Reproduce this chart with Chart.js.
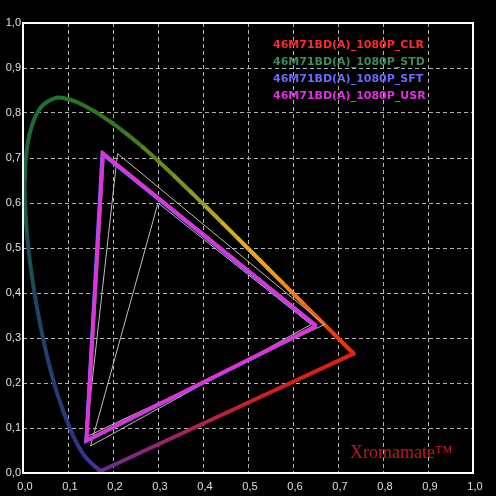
<!DOCTYPE html>
<html>
<head>
<meta charset="utf-8">
<script src="https://cdn.jsdelivr.net/npm/chart.js@4.4.0/dist/chart.umd.min.js"></script>
<style>
  html, body { margin: 0; padding: 0; background: #000; }
  #c { display: block; }
</style>
</head>
<body>
<canvas id="c" width="496" height="496"></canvas>
<script>
// ---- Data ----
const tickLabels = ['0,0','0,1','0,2','0,3','0,4','0,5','0,6','0,7','0,8','0,9','1,0'];

// CIE 1931 spectral locus (2°), 380–700 nm step 5
const wavelengths = [380,385,390,395,400,405,410,415,420,425,430,435,440,445,450,455,460,465,470,475,480,485,490,495,500,505,510,515,520,525,530,535,540,545,550,555,560,565,570,575,580,585,590,595,600,605,610,615,620,625,630,635,640,645,650,655,660,665,670,675,680,685,690,695,700];
const locusX = [0.1741,0.1740,0.1738,0.1736,0.1733,0.1730,0.1726,0.1721,0.1714,0.1703,0.1689,0.1669,0.1644,0.1611,0.1566,0.1510,0.1440,0.1355,0.1241,0.1096,0.0913,0.0687,0.0454,0.0235,0.0082,0.0039,0.0139,0.0389,0.0743,0.1142,0.1547,0.1929,0.2296,0.2658,0.3016,0.3373,0.3731,0.4087,0.4441,0.4788,0.5125,0.5448,0.5752,0.6029,0.6270,0.6482,0.6658,0.6801,0.6915,0.7006,0.7079,0.7140,0.7190,0.7230,0.7260,0.7283,0.7300,0.7311,0.7320,0.7327,0.7334,0.7340,0.7344,0.7346,0.7347];
const locusY = [0.0050,0.0050,0.0049,0.0049,0.0048,0.0048,0.0048,0.0048,0.0051,0.0058,0.0069,0.0086,0.0109,0.0138,0.0177,0.0227,0.0297,0.0399,0.0578,0.0868,0.1327,0.2007,0.2950,0.4127,0.5384,0.6548,0.7502,0.8120,0.8338,0.8262,0.8059,0.7816,0.7543,0.7243,0.6923,0.6589,0.6245,0.5896,0.5547,0.5202,0.4866,0.4544,0.4242,0.3965,0.3725,0.3514,0.3340,0.3197,0.3083,0.2993,0.2920,0.2859,0.2809,0.2770,0.2740,0.2717,0.2700,0.2689,0.2680,0.2673,0.2666,0.2660,0.2656,0.2654,0.2653];

// Reference gamuts (R, G, B)
const ntscX = [0.67, 0.21, 0.14];
const ntscY = [0.33, 0.71, 0.08];
const srgbX = [0.64, 0.30, 0.15];
const srgbY = [0.33, 0.60, 0.06];

// Measured display gamuts (R, G, B)
const seriesNames = ['46M71BD(A)_1080P_CLR','46M71BD(A)_1080P_STD','46M71BD(A)_1080P_SFT','46M71BD(A)_1080P_USR'];
const clrX = [0.652, 0.178, 0.141];
const clrY = [0.327, 0.710, 0.072];
const stdX = [0.652, 0.178, 0.141];
const stdY = [0.327, 0.710, 0.072];
const sftX = [0.651, 0.176, 0.140];
const sftY = [0.326, 0.709, 0.071];
const usrX = [0.652, 0.178, 0.141];
const usrY = [0.327, 0.710, 0.072];

// ---- Styles ----
const seriesColors = ['#ff2a2a', '#3f8a58', '#6a6aff', '#e030e0'];
const locusStops = [
  [380, [112,40,150]], [440, [84,44,150]], [460, [58,52,148]], [480, [40,56,124]],
  [495, [30,70,96]], [505, [26,100,64]], [520, [30,118,36]], [540, [56,120,26]],
  [555, [118,140,30]], [565, [160,160,32]], [575, [222,176,32]], [585, [240,160,32]],
  [595, [240,128,32]], [605, [232,90,32]], [620, [232,58,24]], [700, [224,32,16]]
];
function wlColor(w) {
  for (let i = 0; i < locusStops.length - 1; i++) {
    const [w0, c0] = locusStops[i], [w1, c1] = locusStops[i + 1];
    if (w >= w0 && w <= w1) {
      const t = (w - w0) / (w1 - w0);
      const c = c0.map((v, k) => Math.round(v + (c1[k] - v) * t));
      return `rgb(${c[0]},${c[1]},${c[2]})`;
    }
  }
  return 'rgb(224,32,16)';
}

function pts(xs, ys) { return xs.map((x, i) => ({ x, y: ys[i] })); }
function closed(xs, ys) { const p = pts(xs, ys); p.push(p[0]); return p; }

const locusData = closed(locusX, locusY);
const nLocus = locusX.length;

const datasets = [
  {
    label: 'locus', data: locusData, order: 10, borderWidth: 4, tension: 0.3,
    borderCapStyle: 'round', borderJoinStyle: 'round',
    segment: {
      borderColor: (ctx) => {
        const i0 = ctx.p0DataIndex, i1 = ctx.p1DataIndex;
        if (i1 >= nLocus) {
          const g = ctx.chart.ctx.createLinearGradient(ctx.p0.x, ctx.p0.y, ctx.p1.x, ctx.p1.y);
          g.addColorStop(0, wlColor(700));
          g.addColorStop(0.4, 'rgb(205,30,36)');
          g.addColorStop(0.75, 'rgb(150,36,110)');
          g.addColorStop(1, wlColor(380));
          return g;
        }
        return wlColor((wavelengths[i0] + wavelengths[i1]) / 2);
      }
    }
  },
  { label: 'NTSC', data: closed(ntscX, ntscY), order: 9, borderWidth: 1, borderColor: '#bcbcbc' },
  { label: 'sRGB', data: closed(srgbX, srgbY), order: 8, borderWidth: 1, borderColor: '#bcbcbc' },
  { label: seriesNames[0], data: closed(clrX, clrY), order: 7, borderWidth: 3.5, borderColor: seriesColors[0] },
  { label: seriesNames[1], data: closed(stdX, stdY), order: 6, borderWidth: 3.5, borderColor: seriesColors[1] },
  { label: seriesNames[2], data: closed(sftX, sftY), order: 5, borderWidth: 3.5, borderColor: seriesColors[2] },
  { label: seriesNames[3], data: closed(usrX, usrY), order: 4, borderWidth: 3.5, borderColor: seriesColors[3] }
];
datasets.forEach(d => {
  d.showLine = true; d.pointRadius = 0; d.pointHoverRadius = 0; d.fill = false;
  if (d.tension === undefined) d.tension = 0;
  if (!d.borderJoinStyle) d.borderJoinStyle = 'miter';
});

const overlay = {
  id: 'overlay',
  afterDraw(chart) {
    const { ctx, chartArea: a } = chart;
    ctx.save();
    ctx.strokeStyle = '#ffffff';
    ctx.lineWidth = 2;
    ctx.setLineDash([]);
    ctx.strokeRect(a.left, a.top, a.right - a.left, a.bottom - a.top);
    // legend texts
    ctx.font = 'bold 11px "DejaVu Sans"';
    ctx.textBaseline = 'middle';
    ctx.textAlign = 'left';
    const ys = [45, 62, 79, 96];
    seriesNames.forEach((n, i) => {
      ctx.fillStyle = seriesColors[i];
      ctx.fillText(n, 273, ys[i]);
    });
    // watermark
    ctx.font = '18px "Liberation Serif"';
    ctx.textBaseline = 'alphabetic';
    ctx.fillStyle = '#c41818';
    ctx.fillText('Xromamate\u2122', 350, 458);
    ctx.restore();
  }
};

const axisCommon = {
  type: 'linear', min: 0, max: 1,
  grid: { color: '#b4b4b4', lineWidth: 1, drawTicks: false },
  border: { display: false, dash: [4, 3] },
  ticks: {
    stepSize: 0.1, autoSkip: false, color: '#e0e0e0',
    font: { family: '"Liberation Sans"', size: 11 },
    callback: (v, i) => tickLabels[i]
  }
};

new Chart(document.getElementById('c'), {
  type: 'scatter',
  data: { datasets },
  options: {
    responsive: false, animation: false, devicePixelRatio: 1,
    layout: { padding: { top: 23, right: 23, left: 0, bottom: 0 } },
    plugins: { legend: { display: false }, tooltip: { enabled: false } },
    scales: {
      x: Object.assign({}, axisCommon, {
        position: 'bottom',
        ticks: Object.assign({}, axisCommon.ticks, { padding: 7, labelOffset: 2, maxRotation: 0 }),
        afterFit: (s) => { s.height = 23; }
      }),
      y: Object.assign({}, axisCommon, {
        position: 'left',
        ticks: Object.assign({}, axisCommon.ticks, { padding: 2 }),
        afterFit: (s) => { s.width = 23; }
      })
    }
  },
  plugins: [overlay]
});
</script>
</body>
</html>
